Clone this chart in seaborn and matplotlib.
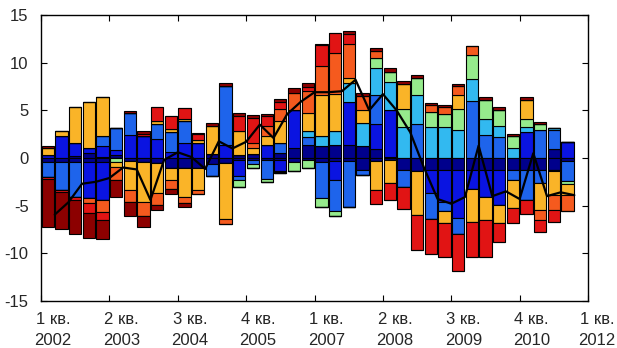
import numpy as np
import matplotlib
matplotlib.use("Agg")
import matplotlib.pyplot as plt
import matplotlib.transforms as mtransforms
import seaborn as sns

# ---------------- data ----------------
tick_labels = ["1 кв.\n2002", "2 кв.\n2003", "3 кв.\n2004", "4 кв.\n2005", "1 кв.\n2007",
               "2 кв.\n2008", "3 кв.\n2009", "4 кв.\n2010", "1 кв.\n2012"]
n_quarters = 39  # 2002Q1 .. 2011Q3

# positive contributions (stacked upward from zero, in this order)
navy_pos = [0, 0, 0.2, 0.5, 0.1, 0.3, 0, 0, 0, 0, 0, 0, 0.4, 0, 0.3, 0.4, 0, 0.5, 1.0, 1.4,
            1.3, 1.4, 1.4, 1.3, 0.9, 0.1, 0, 0, 0, 0, 0, 0, 0, 0, 0, 0, 0, 0.9, 0]
blue_pos = [0.3, 2.3, 1.4, 0.5, 1.2, 0.5, 2.4, 2.3, 2.0, 0.6, 1.6, 1.6, 0, 1.4, 0, 0, 1.4, 0, 4.0, 0,
            0, 0, 4.5, 0, 2.7, 4.9, 0, 0, 0, 0, 0, 0, 0, 0, 0, 2.7, 0, 0, 1.7]
mblue_pos = [0, 0, 0, 0, 1.0, 2.3, 2.3, 0, 1.6, 2.1, 2.3, 0, 0, 6.2, 0, 0, 0, 1.1, 0, 0.8,
             0, 0, 0, 0, 3.0, 0, 0, 3.6, 0, 0, 0, 6.0, 2.4, 2.2, 0, 0, 2.9, 2.0, 0]
lblue_pos = [0, 0, 0, 0, 0, 0, 0, 0, 0, 0, 0, 0, 0, 0, 0, 0, 0, 0, 0, 0.6,
             1.0, 1.4, 2.0, 2.4, 2.8, 3.0, 3.3, 3.0, 3.2, 3.2, 2.9, 2.3, 1.7, 1.2, 1.0, 0.5, 0, 0.2, 0]
green_pos = [0, 0, 0, 0, 0, 0, 0, 0, 0, 0, 0, 0, 0, 0, 0, 0, 0, 0, 0, 0,
             0, 0, 0, 0, 1.1, 1.0, 1.8, 1.8, 1.6, 1.4, 2.2, 2.5, 2.0, 1.6, 1.3, 0.9, 0.7, 0, 0]
orange_pos = [0.7, 0.5, 3.7, 4.9, 4.1, 0, 0, 0, 0.3, 0.3, 0.2, 0.3, 3.0, 0, 2.5, 0.6, 0.9, 2.3, 0, 1.9,
              4.3, 3.9, 0.5, 1.3, 0, 0, 2.7, 0, 0, 0, 1.5, 0, 0, 0, 0, 2.0, 0, 0, 0]
ored_pos = [0, 0, 0, 0, 0, 0, 0, 0, 0, 0, 0, 0, 0, 0, 0, 0.6, 1.1, 1.2, 1.8, 2.3,
            3.0, 4.3, 3.6, 1.5, 0.7, 0, 0, 0, 0.8, 0.8, 0.9, 0.9, 0, 0, 0, 0, 0, 0, 0]
red_pos = [0, 0, 0, 0, 0, 0, 0, 0.25, 1.4, 1.4, 1.1, 0.6, 0, 0, 1.6, 2.6, 1.0, 0.8, 0, 0.4,
           2.2, 2.1, 1.0, 0, 0, 0, 0, 0, 0, 0, 0, 0, 0, 0, 0, 0, 0, 0, 0]
cap_pos = [0.26, 0, 0, 0, 0, 0, 0.2, 0.25, 0, 0, 0, 0.15, 0.25, 0.3, 0.3, 0.3, 0.2, 0.3, 0.5, 0.5,
           0.2, 0, 0.3, 0.3, 0.3, 0.4, 0.3, 0.3, 0.2, 0.2, 0.3, 0, 0.3, 0.3, 0.2, 0.3, 0.2, 0, 0]

# negative contributions (stacked downward from zero, in this order)
navy_neg = [-0.4, -0.4, -0.4, -0.4, -0.4, 0, -0.3, -0.4, -0.5, -1.1, -1.1, -1.1, -0.6, -0.5, -0.2, -0.2,
            -0.2, -0.2, -0.4, -0.2, -0.4, -0.3, -0.3, -1.3, -0.3, -0.2, -1.3, -1.4, -1.3, -1.3, -1.3,
            -1.3, -1.3, -1.3, -1.3, -1.3, -1.3, -1.3, -0.3]
blue_neg = [0, 0, 0, -3.8, -4.0, 0, 0, 0, 0, 0, 0, 0, 0, 0, -1.7, 0, 0, -1.2, 0, 0,
            0, -2.0, 0, 0, 0, 0, 0, 0, -2.4, -3.3, -5.0, -1.9, -2.8, -3.6, 0, 0, 0, 0, 0]
mblue_neg = [-1.6, -3.0, -3.7, 0, 0, 0, 0, 0, 0, 0, 0, 0, -1.3, 0, -0.4, -0.4, -2.0, -0.1, 0, 0,
             -3.8, -3.3, -4.8, -0.5, 0, 0, -1.7, 0, -2.7, -1.0, -1.7, 0, 0, 0, -1.0, -3.1, -1.3, -0.1, -2.1]
green_neg = [0, 0, 0, 0, 0, -0.4, 0, 0, 0, 0, 0, 0, 0, 0, -0.7, -0.4, -0.3, -0.1, -1.0, -0.8,
             -0.9, -0.5, 0, 0, 0, 0, 0, 0, 0, 0, 0, 0, 0, 0, 0, 0, 0, 0, -0.3]
orange_neg = [0, 0, 0, 0, 0, -0.5, -3.1, -4.2, -3.2, -1.2, -3.0, -2.3, 0, -5.9, 0, 0, 0, 0, 0, 0,
              0, 0, 0, 0, -3.1, -2.4, 0, -4.6, 0, -1.2, 0, -3.5, -2.4, -1.9, -2.9, 0, -2.9, -2.5, -1.2]
ored_neg = [0, 0, 0, -0.5, -1.3, -1.4, -1.2, -1.5, -1.2, -1.0, -0.6, -0.4, 0, -0.5, 0, 0, 0, 0, 0, 0,
            0, 0, 0, 0, 0, 0, 0, 0, 0, 0, 0, 0, 0, 0, 0, 0, -1.0, -1.6, -1.7]
red_neg = [-0.2, -0.15, -0.3, -1.1, -0.8, 0, 0, 0, 0, 0, 0, 0, 0, 0, 0, 0, 0, 0, 0, 0,
           0, 0, 0, 0, -1.4, -1.8, -2.4, -3.7, -3.7, -3.6, -3.9, -3.7, -3.9, -2.0, -1.6, -1.5, -1.3, -1.2, 0]
dred_neg = [-5.0, -3.9, -3.6, -2.6, -2.0, -1.8, -1.5, -1.1, -0.6, -0.5, -0.4, 0, 0, 0, 0, 0, 0, 0, 0, 0,
            0, 0, 0, 0, 0, 0, 0, 0, 0, 0, 0, 0, 0, 0, 0, 0, 0, 0, 0]

# ---------------- styling ----------------
col_navy = "#00008C"
col_blue = "#0A14E1"
col_mblue = "#1E64EB"
col_lblue = "#32B9F0"
col_green = "#96EB8C"
col_orange = "#FAB428"
col_ored = "#F55A1E"
col_red = "#E11414"
col_dred = "#8C0000"

pos_layers = [(navy_pos, col_navy), (blue_pos, col_blue), (mblue_pos, col_mblue),
              (lblue_pos, col_lblue), (green_pos, col_green), (orange_pos, col_orange),
              (ored_pos, col_ored), (red_pos, col_red), (cap_pos, col_dred)]
neg_layers = [(navy_neg, col_navy), (blue_neg, col_blue), (mblue_neg, col_mblue),
              (green_neg, col_green), (orange_neg, col_orange), (ored_neg, col_ored),
              (red_neg, col_red), (dred_neg, col_dred)]

sns.set_theme(style="white")
plt.rcParams["font.family"] = ["Liberation Sans", "DejaVu Sans"]

fig = plt.figure(figsize=(6.17, 3.48), dpi=100)
ax = fig.add_axes([0.0665, 0.135, 0.8865, 0.822])

x = np.arange(n_quarters) + 0.5
bw = 0.9
edge_kw = dict(edgecolor="black", linewidth=0.8)

bottom = np.zeros(n_quarters)
for vals, c in pos_layers:
    v = np.array(vals, dtype=float)
    ax.bar(x, v, width=bw, bottom=bottom, color=c, **edge_kw)
    bottom += v
bottom = np.zeros(n_quarters)
for vals, c in neg_layers:
    v = np.array(vals, dtype=float)
    ax.bar(x, v, width=bw, bottom=bottom, color=c, **edge_kw)
    bottom += v

# net total line (sum of all contributions)
net = np.zeros(n_quarters)
for vals, _ in pos_layers + neg_layers:
    net += np.array(vals, dtype=float)
sns.lineplot(x=np.arange(n_quarters) + 1, y=net, ax=ax, color="black", linewidth=1.6, zorder=5)

ax.set_xlim(0, 40)
ax.set_ylim(-15, 15)
ax.set_xticks(np.arange(0, 41, 5))
ax.set_xticklabels(tick_labels, linespacing=1.5)
ax.set_yticks([-15, -10, -5, 0, 5, 10, 15])
ax.set_yticklabels(["-15", "-10", "-5", "0", "5", "10", "15"])
ax.tick_params(axis="both", direction="in", length=4, width=0.8, color="black",
               labelsize=12, top=True, right=True, bottom=True, left=True)
ax.tick_params(axis="x", pad=8)
ax.tick_params(axis="y", pad=9)

# x labels sit a little to the right of their ticks, as in the reference
labels = ax.get_xticklabels()
for k, lbl in enumerate(labels):
    dx = 12 if k < len(labels) - 1 else 9
    off = mtransforms.ScaledTranslation(dx / 100, 0, fig.dpi_scale_trans)
    lbl.set_transform(lbl.get_transform() + off)

for s in ax.spines.values():
    s.set_visible(True)
    s.set_color("black")
    s.set_linewidth(1.0)
ax.set_xlabel("")
ax.set_ylabel("")
ax.grid(False)

fig.savefig("out.png", dpi=100)
